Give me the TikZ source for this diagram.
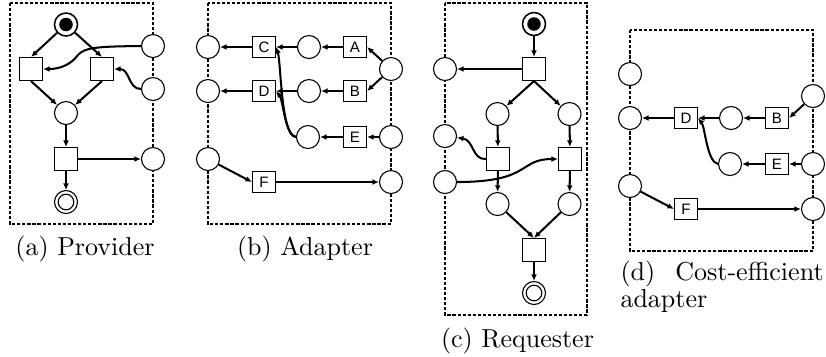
\documentclass[tikz,border=0pt]{standalone}
\usepackage{fontspec}
\newfontfamily\labfont{Liberation Sans}
\usetikzlibrary{arrows.meta}
\begin{document}
\begin{tikzpicture}[x=0.3846pt,y=-0.3846pt,
  place/.style={circle,draw,fill=white,minimum size=8.85pt,inner sep=0pt,line width=0.42pt},
  trans/.style={rectangle,draw,fill=white,minimum size=8.85pt,inner sep=0pt,line width=0.42pt},
  ltrans/.style={rectangle,draw,fill=white,minimum width=8.85pt,minimum height=8.08pt,inner sep=0pt,line width=0.42pt,font=\labfont\fontsize{5.8}{6}\selectfont},
  frame/.style={draw,line width=0.75pt,dash pattern=on 1.25pt off 0.7pt},
  arr/.style={-{Latex[length=2.5pt,width=2.2pt]},line width=0.78pt},
  captxt/.style={anchor=base,inner sep=0pt,font=\fontsize{10}{10.4}\selectfont}]
\useasboundingbox (0,0) rectangle (826,356);

% ---------------- (a) Provider ----------------
\draw[frame] (10,3) rectangle (153,224);
\node[place,line width=0.6pt] (sa) at (66,24.5) {};
\fill (sa.center) circle[radius=2.6pt];
\node[trans] (ta1) at (31,69) {};
\node[trans] (ta2) at (102,69) {};
\node[place] (pa) at (66,113) {};
\node[trans] (ta3) at (66,159) {};
\node[place] (ea) at (66,202) {};
\draw[line width=0.42pt] (ea.center) circle[radius=3.0pt];
\node[place] (ra1) at (153,46) {};
\node[place] (ra2) at (153,89) {};
\node[place] (ra3) at (153,159) {};
\draw[arr] (sa) -- (ta1.north);
\draw[arr] (sa) -- (ta2.north);
\draw[arr] (ta1.south) -- (pa);
\draw[arr] (ta2.south) -- (pa);
\draw[arr] (pa) -- (ta3);
\draw[arr] (ta3) -- (ea);
\draw[arr] (ta3) -- (ra3);
\draw[arr] (ra1.west) .. controls (100,46.5) and (84,47) .. (77.5,55.5) .. controls (72,63) and (62,69) .. (ta1.east);
\draw[arr] (ra2.west) .. controls (128,89) and (130,69) .. (ta2.east);
\node[captxt] (capa) at (85,255) {(a) Provider};

% ---------------- (b) Adapter ----------------
\draw[frame] (208,3) rectangle (391,224);
\node[place] (lb1) at (208,47) {};
\node[place] (lb2) at (208,91) {};
\node[place] (lb3) at (208,159) {};
\node[ltrans] (C) at (264,47) {C};
\node[ltrans] (D) at (264,91) {D};
\node[ltrans] (F) at (264,182) {F};
\node[place] (mb1) at (309,47) {};
\node[place] (mb2) at (309,91) {};
\node[place] (mb3) at (308,137) {};
\node[ltrans] (A) at (355,47) {A};
\node[ltrans] (B) at (355,91) {B};
\node[ltrans] (E) at (355,137) {E};
\node[place] (rb1) at (391,69) {};
\node[place] (rb2) at (391,137) {};
\node[place] (rb3) at (391,182) {};
\draw[arr] (C) -- (lb1);
\draw[arr] (D) -- (lb2);
\draw[arr] (mb1) -- (C);
\draw[arr] (mb2) -- (D);
\draw[arr] (A) -- (mb1);
\draw[arr] (B) -- (mb2);
\draw[arr] (E) -- (mb3);
\draw[arr] (rb2) -- (E);
\draw[arr] (rb1) -- (A.east);
\draw[arr] (rb1) -- (B.east);
\draw[arr] (lb3) -- (F.west);
\draw[arr] (F) -- (rb3);
\draw[arr] (mb3.west) .. controls (281,137) and (281,62) .. (C.east);
\draw[arr] (mb3.west) .. controls (285,135) and (283,100) .. (D.east);
\node[captxt] (capb) at (305,255) {(b) Adapter};

% ---------------- (c) Requester ----------------
\draw[frame] (445,3) rectangle (587,315);
\node[place,line width=0.6pt] (sc) at (534,24) {};
\fill (sc.center) circle[radius=2.6pt];
\node[trans] (tc1) at (534,69) {};
\node[place] (lc1) at (445,69) {};
\node[place] (lc2) at (445,136) {};
\node[place] (lc3) at (445,182) {};
\node[place] (pcl1) at (497.5,114) {};
\node[place] (pcr1) at (569.5,114) {};
\node[trans] (tcl) at (498,159) {};
\node[trans] (tcr) at (570,159) {};
\node[place] (pcl2) at (497.5,204) {};
\node[place] (pcr2) at (569.5,204) {};
\node[trans] (tc2) at (534,250) {};
\node[place] (ec) at (534,293) {};
\draw[line width=0.42pt] (ec.center) circle[radius=3.0pt];
\draw[arr] (sc) -- (tc1);
\draw[arr] (tc1) -- (lc1);
\draw[arr] (tc1.south) -- (pcl1);
\draw[arr] (tc1.south) -- (pcr1);
\draw[arr] (pcl1) -- (tcl);
\draw[arr] (pcr1) -- (tcr);
\draw[arr] (tcl) -- (pcl2);
\draw[arr] (tcr) -- (pcr2);
\draw[arr] (pcl2) -- (tc2.north);
\draw[arr] (pcr2) -- (tc2.north);
\draw[arr] (tc2) -- (ec);
\draw[arr] (tcl.west) .. controls (472,160) and (474,140) .. (lc2);
\draw[arr] (lc3.east) .. controls (532,182) and (518,159) .. (tcr.west);
\node[captxt] (capc) at (517.5,347) {(c) Requester};

% ---------------- (d) Cost-efficient adapter ----------------
\begin{scope}[shift={(422,27)}]
\draw[frame] (208,3) rectangle (391,224);
\node[place] (ld1) at (208,47) {};
\node[place] (ld2) at (208,91) {};
\node[place] (ld3) at (208,159) {};
\node[ltrans] (Dd) at (264,91) {D};
\node[ltrans] (Fd) at (264,182) {F};
\node[place] (md2) at (309,91) {};
\node[place] (md3) at (308,137) {};
\node[ltrans] (Bd) at (355,91) {B};
\node[ltrans] (Ed) at (355,137) {E};
\node[place] (rd1) at (391,69) {};
\node[place] (rd2) at (391,137) {};
\node[place] (rd3) at (391,182) {};
\draw[arr] (Dd) -- (ld2);
\draw[arr] (md2) -- (Dd);
\draw[arr] (Bd) -- (md2);
\draw[arr] (Ed) -- (md3);
\draw[arr] (rd2) -- (Ed);
\draw[arr] (rd1) -- (Bd.east);
\draw[arr] (ld3) -- (Fd.west);
\draw[arr] (Fd) -- (rd3);
\draw[arr] (md3.west) .. controls (285,135) and (283,100) .. (Dd.east);
\end{scope}
\node[anchor=base west,inner sep=0pt,text width=78.1pt,align=left,font=\fontsize{10}{10.4}\selectfont] (capd) at (620,280) {(d)\hfill Cost-efficient\\adapter};
\end{tikzpicture}
\end{document}
